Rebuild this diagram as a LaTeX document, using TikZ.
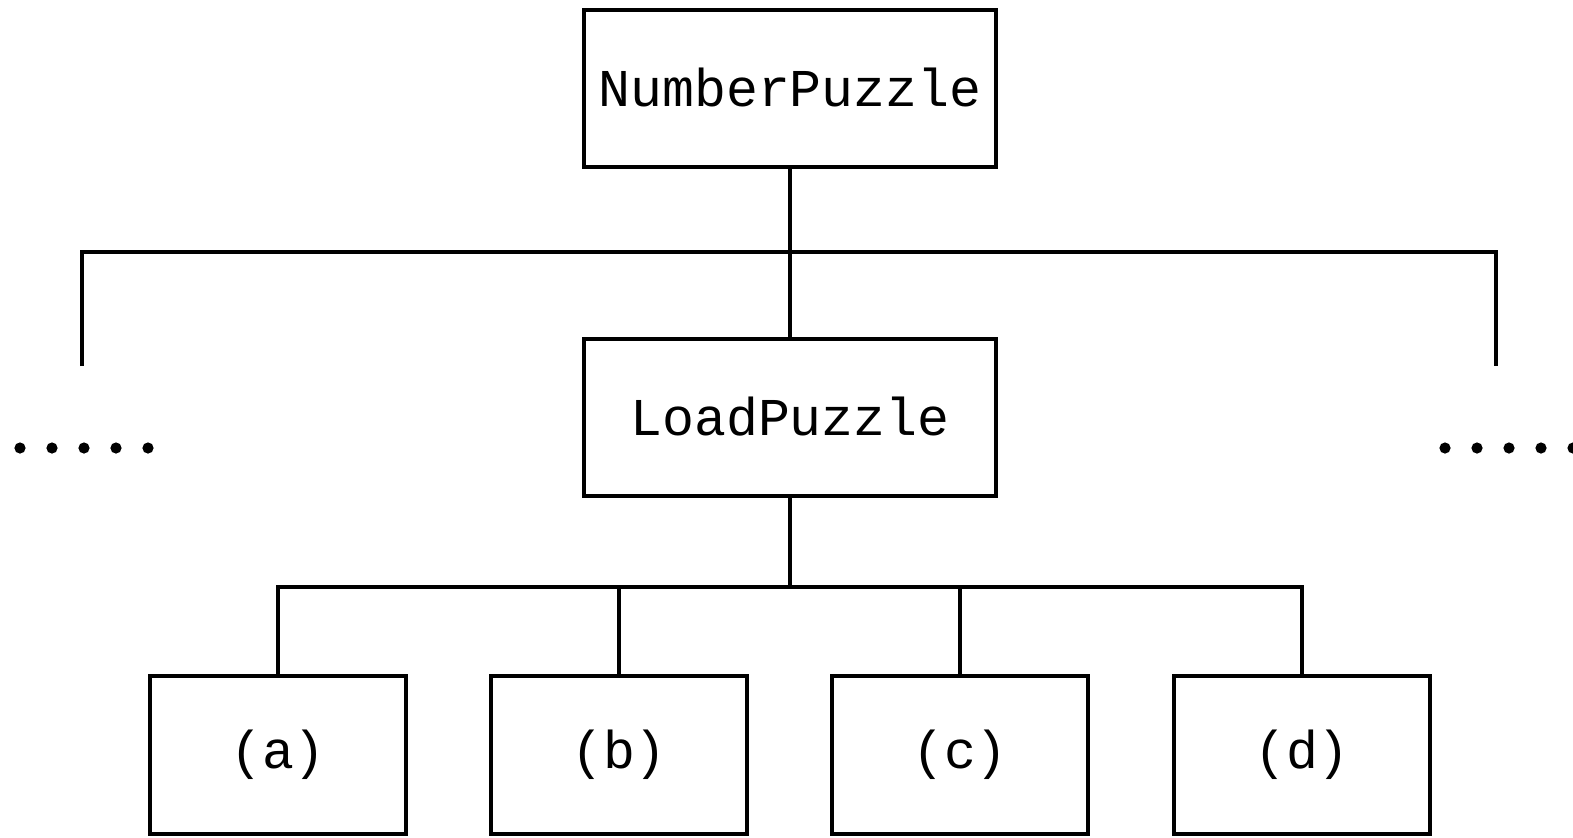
\documentclass[tikz,border=0pt]{standalone}
\usepackage{fontspec}
\setmonofont{Liberation Mono}
\newcommand{\boxtext}[1]{\raisebox{1.5pt}{#1}}
\begin{document}
\begin{tikzpicture}[x=0.5pt,y=-0.5pt,
  box/.style={draw,line width=1.6pt,rectangle,inner sep=0pt,font=\ttfamily\fontsize{26.6}{30}\selectfont},
  bigbox/.style={box,minimum width=206pt,minimum height=78.5pt},
  leaf/.style={box,minimum width=128pt,minimum height=79pt},
  conn/.style={line width=1.6pt},
  dot/.style={fill=black}]
\useasboundingbox (0,0) rectangle (1573,837);
\node[bigbox] (np) at (790,88.5) {\boxtext{NumberPuzzle}};
\node[bigbox] (lp) at (790,417.5) {\boxtext{LoadPuzzle}};
\node[leaf] (a) at (278,755) {\boxtext{(a)}};
\node[leaf] (b) at (619,755) {\boxtext{(b)}};
\node[leaf] (c) at (960,755) {\boxtext{(c)}};
\node[leaf] (d) at (1302,755) {\boxtext{(d)}};
\coordinate (busL) at (82,252);
\coordinate (busR) at (1496,252);
\coordinate (endL) at (82,366);
\coordinate (endR) at (1496,366);
\coordinate (bus2) at (790,587);
\draw[conn] (np.south) -- (lp.north);
\draw[conn] (endL) -- (busL) -- (busR) -- (endR);
\draw[conn] (lp.south) -- (bus2);
\draw[conn] (a.north) |- (bus2);
\draw[conn] (d.north) |- (bus2);
\draw[conn] (b.north) -- (b.north |- bus2);
\draw[conn] (c.north) -- (c.north |- bus2);
\foreach \x in {20,52,84,116,148,1445,1477,1509,1541,1573}
  \fill[dot] (\x,448) circle (2.8pt);
\end{tikzpicture}
\end{document}
